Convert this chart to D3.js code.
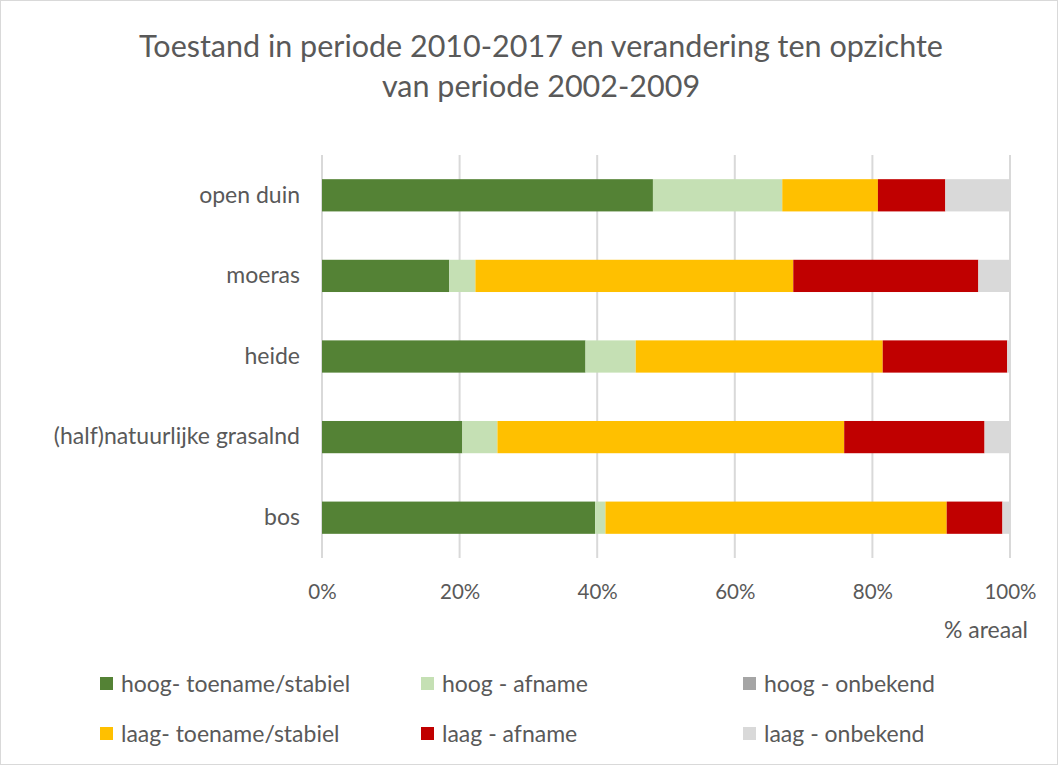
<!DOCTYPE html>
<html>
<head>
<meta charset="utf-8">
<script src="https://cdn.jsdelivr.net/npm/d3@7"></script>
<style>
  body { margin: 0; background: #fff; }
  svg text { font-family: Lato, "Open Sans", sans-serif; fill: #595959; }
</style>
</head>
<body>
<div id="chart"></div>
<script>
// categories top to bottom
var categories = ["open duin", "moeras", "heide", "(half)natuurlijke grasalnd", "bos"];

// series (percent of area)
var seriesNames = ["hoog- toename/stabiel", "hoog - afname", "hoog - onbekend",
                   "laag- toename/stabiel", "laag - afname", "laag - onbekend"];
var hoogToename = [48.1, 18.5, 38.3, 20.4, 39.7];
var hoogAfname  = [18.8,  3.8,  7.3,  5.1,  1.5];
var hoogOnbek   = [ 0.0,  0.0,  0.0,  0.0,  0.0];
var laagToename = [13.9, 46.2, 35.9, 50.4, 49.6];
var laagAfname  = [ 9.8, 26.9, 18.1, 20.4,  8.1];
var laagOnbek   = [ 9.4,  4.6,  0.4,  3.7,  1.1];
var seriesColors = ["#548235", "#C5E0B4", "#A5A5A5", "#FFC000", "#C00000", "#D9D9D9"];

var xTicks = [0, 0.2, 0.4, 0.6, 0.8, 1];
var titleLines = ["Toestand in periode 2010-2017 en verandering ten opzichte", "van periode 2002-2009"];
var axisTitle = "% areaal";

var width = 1060, height = 767;
var margin = {left: 322, right: 50, top: 155, bottom: 209};

var svg = d3.select("#chart").append("svg")
    .attr("width", width)
    .attr("height", height);

svg.append("rect")
    .attr("x", 0.5).attr("y", 0.5)
    .attr("width", width - 3).attr("height", height - 3)
    .attr("fill", "#fff")
    .attr("stroke", "#D9D9D9");

// build rows for stacking
var allSeries = [hoogToename, hoogAfname, hoogOnbek, laagToename, laagAfname, laagOnbek];
var rows = categories.map(function(c, i){
    var r = {cat: c};
    seriesNames.forEach(function(s, j){ r[s] = allSeries[j][i]; });
    return r;
});
var stack = d3.stack().keys(seriesNames).offset(d3.stackOffsetExpand);
var stacked = stack(rows);

var x = d3.scaleLinear()
    .domain([0, 1])
    .range([margin.left, width - margin.right]);

var y = d3.scaleBand()
    .domain(categories)
    .range([margin.top, height - margin.bottom])
    .paddingInner(0.6)
    .paddingOuter(0.3);

// gridlines
svg.append("g")
    .selectAll("line")
    .data(xTicks)
    .enter().append("line")
    .attr("x1", function(d){ return x(d); })
    .attr("x2", function(d){ return x(d); })
    .attr("y1", margin.top)
    .attr("y2", height - margin.bottom)
    .attr("stroke", "#D9D9D9")
    .attr("stroke-width", 2);

// bars
svg.append("g")
    .selectAll("g")
    .data(stacked)
    .enter().append("g")
    .attr("fill", function(d, i){ return seriesColors[i]; })
    .selectAll("rect")
    .data(function(d){ return d; })
    .enter().append("rect")
    .attr("x", function(d){ return x(d[0]); })
    .attr("width", function(d){ return x(d[1]) - x(d[0]); })
    .attr("y", function(d){ return y(d.data.cat); })
    .attr("height", y.bandwidth());

// x axis labels
var xAxis = d3.axisBottom(x)
    .tickValues(xTicks)
    .tickFormat(d3.format(".0%"))
    .tickSize(0)
    .tickPadding(26);
var gx = svg.append("g")
    .attr("transform", "translate(0," + (height - margin.bottom) + ")")
    .call(xAxis);
gx.select(".domain").remove();
gx.selectAll("text").style("font-size", "20.5px").attr("fill", "#595959");

// y axis labels
var yAxis = d3.axisLeft(y).tickSize(0).tickPadding(22);
var gy = svg.append("g")
    .attr("transform", "translate(" + margin.left + ",0)")
    .call(yAxis);
gy.select(".domain").remove();
gy.selectAll("text").style("font-size", "23px").attr("fill", "#595959");

// title
svg.append("g").selectAll("text")
    .data(titleLines)
    .enter().append("text")
    .attr("x", 541)
    .attr("y", function(d, i){ return 57 + i * 40; })
    .attr("text-anchor", "middle")
    .style("font-size", "30.5px")
    .text(function(d){ return d; });

svg.append("text")
    .attr("x", 1028)
    .attr("y", 638)
    .attr("text-anchor", "end")
    .style("font-size", "23px")
    .text(axisTitle);

// legend
var legX = [100, 421, 743];
var legY = [684, 734];
var leg = svg.append("g").selectAll("g")
    .data(seriesNames)
    .enter().append("g")
    .attr("transform", function(d, i){
        return "translate(" + legX[i % 3] + "," + legY[Math.floor(i / 3)] + ")";
    });
leg.append("rect")
    .attr("x", 0).attr("y", -7)
    .attr("width", 13).attr("height", 13)
    .attr("fill", function(d, i){ return seriesColors[i]; });
leg.append("text")
    .attr("x", 21)
    .attr("dy", "0.35em")
    .style("font-size", "23px")
    .text(function(d){ return d; });
</script>
</body>
</html>
